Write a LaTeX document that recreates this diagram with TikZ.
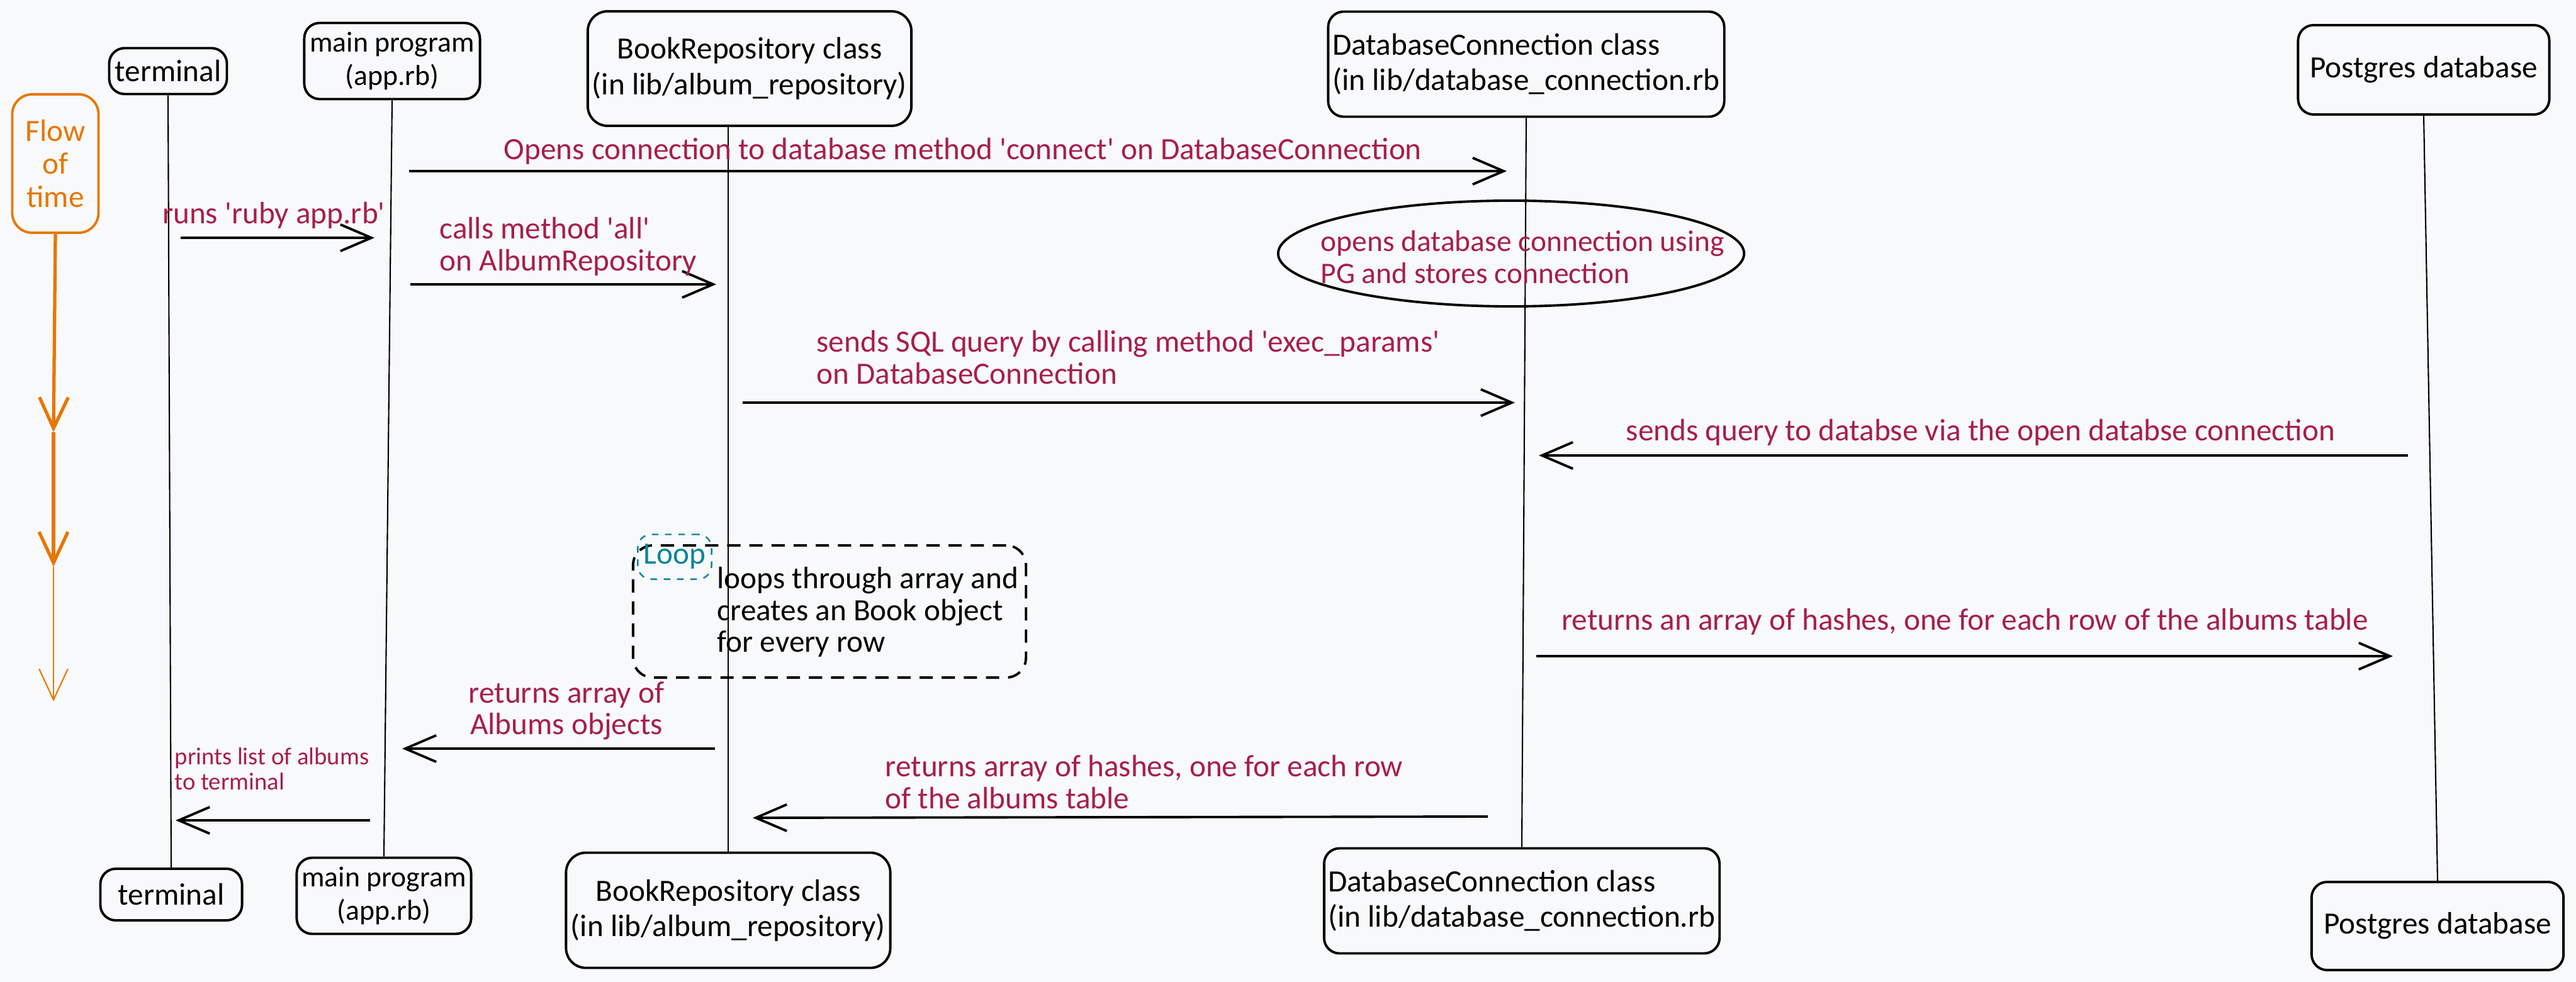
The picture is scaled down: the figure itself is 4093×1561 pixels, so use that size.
\documentclass[tikz,border=0pt]{standalone}
\usepackage{fontspec}
\setmainfont{Carlito}
\usetikzlibrary{arrows.meta,shapes.geometric}
\definecolor{bgcol}{HTML}{F8F9FA}
\definecolor{msgcol}{HTML}{A61E4D}
\definecolor{timecol}{HTML}{E67700}
\definecolor{loopcol}{HTML}{0C8599}
\newcommand{\sq}{\textquotesingle}

\begin{document}
\begin{tikzpicture}[
    x=0.01cm, y=-0.01cm,
    actor/.style={rectangle, draw=black, line width=1.1pt, rounded corners=7pt, align=center, inner sep=0pt, font=\fontsize{14}{16}\selectfont},
    note/.style={text=msgcol, align=left, inner sep=0pt, font=\fontsize{14}{14.4}\selectfont},
    msg/.style={-{Straight Barb[length=14pt,width=12pt]}, line width=1.1pt},
    lifeline/.style={line width=0.6pt},
    timearrow/.style={-{Straight Barb[length=14pt,width=13pt]}, draw=timecol, line width=1.5pt}
]

% Background
\fill[bgcol] (0,0) rectangle (4093,1561);

% Participants (top)
\node[actor, minimum width=1.87cm, minimum height=0.73cm] (termT) at (267,113) {terminal};
\node[actor, minimum width=2.79cm, minimum height=1.21cm, font=\fontsize{13}{15}\selectfont] (mainT) at (623,97) {main program\\(app.rb)};
\node[actor, minimum width=5.14cm, minimum height=1.82cm, rounded corners=9pt] (bookT) at (1191,109) {BookRepository class\\(in lib/album\_repository)};
\node[actor, minimum width=6.29cm, minimum height=1.67cm, align=left] (dbT) at (2425,102) {DatabaseConnection class\\(in lib/database\_connection.rb};
\node[actor, minimum width=3.99cm, minimum height=1.42cm] (pgT) at (3851,111) {Postgres database};

% Participants (bottom)
\node[actor, minimum width=2.25cm, minimum height=0.82cm] (termB) at (272,1422) {terminal};
\node[actor, minimum width=2.77cm, minimum height=1.21cm, font=\fontsize{13}{15}\selectfont] (mainB) at (610,1424) {main program\\(app.rb)};
\node[actor, minimum width=5.15cm, minimum height=1.83cm, rounded corners=9pt] (bookB) at (1157,1447) {BookRepository class\\(in lib/album\_repository)};
\node[actor, minimum width=6.28cm, minimum height=1.67cm, align=left] (dbB) at (2418,1432) {DatabaseConnection class\\(in lib/database\_connection.rb};
\node[actor, minimum width=4.0cm, minimum height=1.4cm] (pgB) at (3873,1472) {Postgres database};

% Flow of time
\node[actor, draw=timecol, text=timecol, minimum width=1.37cm, minimum height=2.2cm, rounded corners=9pt, font=\fontsize{14}{15}\selectfont] (flow) at (88,260) {Flow\\of\\time};
\coordinate (time1) at (85,687);
\coordinate (time2) at (85,901);
\coordinate (time3) at (85,1115);
\draw[timearrow] (flow.south) -- (time1);
\draw[timearrow] (time1) -- (time2);
\draw[timearrow, line width=0.6pt] (time2) -- (time3);

% Lifelines
\draw[lifeline] (termT.south) -- (termB.north);
\draw[lifeline] (mainT.south) -- (mainB.north);
\draw[lifeline] (bookT.south -| bookB.north) -- (bookB.north);
\draw[lifeline] (dbT.south) -- (dbB.north);
\draw[lifeline] (pgT.south) -- (pgB.north);

% Messages
\coordinate (openS) at (650,272);
\coordinate (openE) at (2394,272);
\draw[msg] (openS) -- (openE);
\node[note] (openL) at (1530,240) {Opens connection to database method \sq connect\sq{} on DatabaseConnection};

\coordinate (runsS) at (287,378);
\coordinate (runsE) at (595,378);
\draw[msg] (runsS) -- (runsE);
\node[note] (runsL) at (435,342) {runs \sq ruby app.rb\sq};

\coordinate (callsS) at (652,452);
\coordinate (callsE) at (1138,452);
\draw[msg] (callsS) -- (callsE);
\node[note, anchor=west] (callsL) at (698,392) {calls method \sq all\sq\\on AlbumRepository};

\node[ellipse, draw=black, line width=1.1pt, inner sep=0pt, minimum width=7.4cm, minimum height=1.68cm] (pgconn) at (2401,403) {};
\node[note, anchor=west, font=\fontsize{13.5}{14.4}\selectfont] (pgconnL) at (2098,409) {opens database connection using\\PG and stores connection};

\coordinate (sqlS) at (1180,640);
\coordinate (sqlE) at (2407,640);
\draw[msg] (sqlS) -- (sqlE);
\node[note, anchor=west] (sqlL) at (1297,568) {sends SQL query by calling method \sq exec\_params\sq\\on DatabaseConnection};

\coordinate (queryS) at (3826,724);
\coordinate (queryE) at (2445,724);
\draw[msg] (queryS) -- (queryE);
\node[note] (queryL) at (3147,687) {sends query to databse via the open databse connection};

% Loop
\node[draw=black, dashed, dash pattern=on 6pt off 4pt, line width=1.1pt, rounded corners=9pt, minimum width=6.24cm, minimum height=2.1cm] (loopbox) at (1318,972) {};
\node[draw=loopcol, text=loopcol, dashed, line width=0.7pt, rounded corners=6pt, inner sep=0pt, minimum width=1.17cm, minimum height=0.71cm, font=\fontsize{14}{15}\selectfont] (looptag) at (1072,885) {Loop};
\node[anchor=west, align=left, inner sep=0pt, font=\fontsize{14}{14.4}\selectfont] (loopL) at (1139,973) {loops through array and\\creates an Book object\\for every row};

\coordinate (hashS) at (2441,1043);
\coordinate (hashE) at (3802,1043);
\draw[msg] (hashS) -- (hashE);
\node[note] (hashL) at (3122,988) {returns an array of hashes, one for each row of the albums table};

\coordinate (albS) at (1136,1190);
\coordinate (albE) at (639,1190);
\draw[msg] (albS) -- (albE);
\node[note, align=center] (albL) at (900,1130) {returns array of\\Albums objects};

\coordinate (rowsS) at (2364,1298);
\coordinate (rowsE) at (1196,1300);
\draw[msg] (rowsS) -- (rowsE);
\node[note, anchor=west] (rowsL) at (1406,1243) {returns array of hashes, one for each row\\of the albums table};

\coordinate (printS) at (588,1304);
\coordinate (printE) at (279,1304);
\draw[msg] (printS) -- (printE);
\node[note, anchor=west, font=\fontsize{11}{11.5}\selectfont] (printL) at (277,1222) {prints list of albums\\to terminal};

\end{tikzpicture}
\end{document}
